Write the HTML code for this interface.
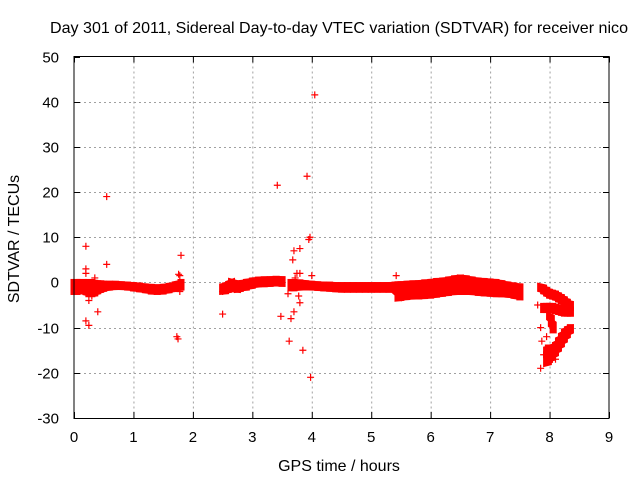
<!DOCTYPE html>
<html><head><meta charset="utf-8"><style>
body{margin:0;background:#fff}
svg{display:block;font-family:"Liberation Sans",sans-serif}
</style></head><body>
<svg id="c" width="640" height="480">
<text x="339" y="33" font-size="16" text-anchor="middle" textLength="578" lengthAdjust="spacingAndGlyphs">Day 301 of 2011, Sidereal Day-to-day VTEC variation (SDTVAR) for receiver nico</text>
<text x="339" y="471" font-size="16" text-anchor="middle">GPS time / hours</text>
<text transform="translate(19,239) rotate(-90)" font-size="16" text-anchor="middle">SDTVAR / TECUs</text>
<g id="grid"></g><g id="ticks"></g><g id="marks"></g>
<rect x="74" y="56.5" width="535" height="362" fill="none" stroke="#000" stroke-width="1"/>
</svg>
<script>
const xTicks=[0,1,2,3,4,5,6,7,8,9];
const yTicks=[-30,-20,-10,0,10,20,30,40,50];
// dense band: time, lower value, upper value
const bandT=[0,0.05,0.1,0.15,0.2,0.25,0.3,0.35,0.4,0.45,0.5,0.6,0.7,0.8,0.9,1.0,1.1,1.2,1.3,1.4,1.5,1.6,1.7,1.8,
2.5,2.55,2.6,2.65,2.7,2.75,2.8,2.9,3.0,3.1,3.2,3.3,3.4,3.5,
3.65,3.7,3.8,3.9,4.0,4.1,4.2,4.3,4.4,4.5,4.6,4.7,4.8,4.9,5.0,5.1,5.2,5.3,5.4,
5.45,5.5,5.6,5.7,5.8,5.9,6.0,6.1,6.2,6.3,6.4,6.5,6.6,6.7,6.8,6.9,7.0,7.1,7.2,7.3,7.4,7.5,
7.85,7.9,7.95,8.0,8.05,8.1,8.15,8.2,8.25,8.3,8.35,
7.9,7.95,8.0,8.05,8.1,8.15,8.2,8.25,8.3,8.35,
8.0,8.03,8.06,
7.95,7.98,8.0,8.05,8.1,8.15,8.2,8.25,8.3,8.35];
const bandLo=[-2,-2,-1.8,-1.8,-2,-2.5,-2.5,-2.3,-1.8,-1.5,-1.3,-1,-0.9,-0.9,-1,-1.2,-1.4,-1.6,-1.9,-2,-1.9,-1.6,-1.3,-1,
-2,-1.8,-1.5,-1,-1.4,-1.6,-1.3,-1,-0.6,-0.3,-0.3,-0.2,-0.1,-0.2,
-1.2,-1.2,-1,-1,-1,-1.1,-1.2,-1.3,-1.4,-1.5,-1.5,-1.5,-1.5,-1.5,-1.5,-1.5,-1.5,-1.5,-1.5,
-3.5,-3.3,-3.1,-3,-3,-2.9,-2.8,-2.6,-2.4,-2.2,-2,-2,-2,-2,-2.2,-2.3,-2.4,-2.5,-2.5,-2.6,-2.8,-3.2,
-1.3,-1.8,-2.3,-2.8,-3,-3.2,-3.6,-4,-4.5,-5,-5.5,
-6,-6,-6,-6,-6.2,-6.4,-6.6,-6.8,-6.8,-6.8,
-7.5,-9,-10.5,
-18,-17.5,-17,-16.5,-15.5,-14.5,-13.5,-12.5,-11.5,-10.5];
const bandHi=[0,0,0,0,0,0,0,-0.2,-0.3,-0.3,-0.4,-0.4,-0.4,-0.5,-0.6,-0.7,-0.8,-1,-1.1,-1.2,-1.1,-0.9,-0.6,0,
-1,-0.8,-0.5,0.3,-0.3,-0.6,-0.3,0,0.3,0.5,0.6,0.6,0.7,0.6,
0,0,-0.1,-0.3,-0.4,-0.5,-0.6,-0.6,-0.7,-0.7,-0.7,-0.7,-0.7,-0.7,-0.7,-0.7,-0.7,-0.7,-0.6,
-0.5,-0.5,-0.4,-0.3,-0.3,-0.1,0,0.2,0.3,0.5,0.8,1,0.8,0.5,0.3,0.2,0.1,0,-0.3,-0.6,-0.8,-1,
-0.8,-1.3,-1.8,-2.2,-2.4,-2.6,-3,-3.4,-3.9,-4.4,-4.9,
-5.3,-5.3,-5.3,-5.3,-5.5,-5.7,-5.9,-6.1,-6.1,-6.1,
-7,-8,-9.5,
-15,-14.5,-14.5,-14.5,-14,-13,-12,-11,-10.5,-10];
// isolated points
const outT=[0.2,0.2,0.2,0.25,0.2,0.25,0.3,0.35,0.35,0.4,0.55,0.55,1.75,1.73,1.78,1.8,1.78,1.8,1.76,2.5,2.5,2.55,3.42,3.48,3.6,3.62,3.65,3.68,3.7,3.7,3.72,3.75,3.78,3.8,3.8,3.8,3.85,3.92,3.95,3.97,4.0,3.98,4.05,5.42,7.85,7.87,7.9,7.85,7.95,8.05,8.1,8.15,7.8,8.1];
const outV=[8,3,2,-4,-8.5,-9.5,-3,1,-2,-6.5,4,19,-12.5,-12,1.5,6,-2,-1,1.8,-7,-2,-1.5,21.5,-7.5,-2.5,-13,-8,5,7,-6.5,1,2,-3,7.5,-4.5,2,-15,23.5,9.5,10,1.5,-21,41.5,1.5,-10,-13,-16,-19,-12,-14,-17,-15,-5,-3];

const X0=74,X1=609,Y0=418,Y1=56.5;
const sx=t=>X0+(t-0)/(9-0)*(X1-X0);
const sy=v=>Y0-(v+30)/(80)*(Y0-Y1);
const NS="http://www.w3.org/2000/svg";
const mk=(tag,attrs,parent)=>{const e=document.createElementNS(NS,tag);for(const k in attrs)e.setAttribute(k,attrs[k]);parent.appendChild(e);return e;};
const grid=document.getElementById('grid'),ticks=document.getElementById('ticks'),marks=document.getElementById('marks');
xTicks.forEach(t=>{
  const x=sx(t)+0.5;
  if(t>0&&t<9){const g=mk('line',{x1:x,x2:x,y1:Y1,y2:Y0,stroke:'#a0a0a0','stroke-dasharray':'2,3'},grid);
  
  }
  mk('line',{x1:x,x2:x,y1:Y0,y2:Y0-6,stroke:'#000'},ticks);
  mk('line',{x1:x,x2:x,y1:Y1,y2:Y1+6,stroke:'#000'},ticks);
  const l=mk('text',{x:sx(t),y:442,'font-size':15,'text-anchor':'middle'},ticks);l.textContent=t;
  
  
});
yTicks.forEach(v=>{
  const y=Math.round(sy(v))+0.5;
  if(v>-30&&v<50){const g=mk('line',{x1:X0,x2:X1,y1:y,y2:y,stroke:'#a0a0a0','stroke-dasharray':'2,3'},grid);
  
  }
  mk('line',{x1:X0,x2:X0+6,y1:y,y2:y,stroke:'#000'},ticks);
  mk('line',{x1:X1,x2:X1-6,y1:y,y2:y,stroke:'#000'},ticks);
  const l=mk('text',{x:59,y:y+5,'font-size':15,'text-anchor':'end'},ticks);l.textContent=v;
  
  
});
function plus(t,v,name){
  const x=sx(t),y=sy(v);
  const p=mk('path',{d:`M${x-3.5},${y}h7M${x},${y-3.5}v7`,stroke:'#f00','stroke-width':1.2,fill:'none'},marks);
  
  
}
for(let i=0;i<bandT.length;i++){
  const x=sx(bandT[i]),yl=sy(bandLo[i]),yh=sy(bandHi[i]);
  const nxt=i+1<bandT.length&&bandT[i+1]>bandT[i]&&bandT[i+1]-bandT[i]<0.12;
  const pts=[[x-3.5,yh-3.5],[x+3.5,yh-3.5]];
  let d;
  if(nxt){
    const x2=sx(bandT[i+1]),yl2=sy(bandLo[i+1]),yh2=sy(bandHi[i+1]);
    d=`M${x-3.5},${yh-3.5}L${x2+3.5},${yh2-3.5}L${x2+3.5},${yl2+3.5}L${x-3.5},${yl+3.5}Z`;
  } else d=`M${x-3.5},${yh-3.5}h7V${yl+3.5}h-7Z`;
  const r=mk('path',{d:d,fill:'#f00'},marks);
  
  
}
for(let i=0;i<outT.length;i++)plus(outT[i],outV[i],'sdtvar-point');
</script>
</body></html>
